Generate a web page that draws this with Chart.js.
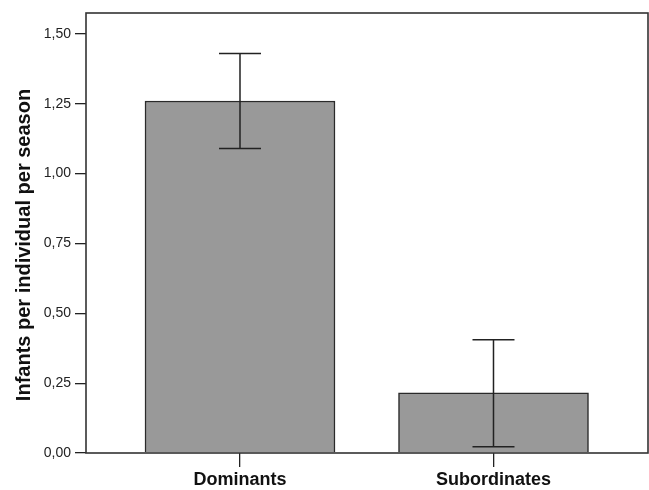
<!DOCTYPE html>
<html>
<head>
<meta charset="utf-8">
<script src="https://cdn.jsdelivr.net/npm/chart.js@4/dist/chart.umd.min.js"></script>
<style>
  html, body { margin: 0; padding: 0; background: #fff; }
  #wrap { width: 649px; height: 490px; position: relative; }
</style>
</head>
<body>
<div id="wrap"><canvas id="c" width="649" height="490"></canvas></div>
<script>
const categories = ["Dominants", "Subordinates"];
const meanValues = [1.26, 0.215];
const errLow = [1.09, 0.022];
const errHigh = [1.43, 0.405];
const yTickValues = [0, 0.25, 0.5, 0.75, 1.0, 1.25, 1.5];
const yTitle = "Infants per individual per season";

const FONT = "'Liberation Sans', Arial, sans-serif";

const frameAndErrors = {
  id: 'frameAndErrors',
  afterDatasetsDraw(chart) {
    const ctx = chart.ctx;
    const xs = chart.scales.x, ys = chart.scales.y;
    ctx.save();
    ctx.strokeStyle = '#222';
    ctx.lineWidth = 1.5;
    categories.forEach((c, i) => {
      const x = xs.getPixelForValue(i + 1);
      const yl = ys.getPixelForValue(errLow[i]);
      const yh = ys.getPixelForValue(errHigh[i]);
      ctx.beginPath();
      ctx.moveTo(x, yl); ctx.lineTo(x, yh);
      ctx.moveTo(x - 21, yl); ctx.lineTo(x + 21, yl);
      ctx.moveTo(x - 21, yh); ctx.lineTo(x + 21, yh);
      ctx.stroke();
    });
    const a = chart.chartArea;
    ctx.strokeStyle = '#333';
    ctx.lineWidth = 1.6;
    ctx.strokeRect(a.left, a.top, a.right - a.left, a.bottom - a.top);
    // y axis title
    ctx.fillStyle = '#111';
    ctx.font = "bold 20px " + FONT;
    ctx.textAlign = 'center';
    ctx.textBaseline = 'middle';
    ctx.translate(24, 245);
    ctx.rotate(-Math.PI / 2);
    ctx.fillText(yTitle, 0, 0);
    ctx.restore();
  }
};

new Chart(document.getElementById('c'), {
  type: 'bar',
  data: {
    datasets: [{
      data: meanValues.map((v, i) => ({ x: i + 1, y: v })),
      backgroundColor: '#999999',
      borderColor: '#2a2a2a',
      borderWidth: 1.5,
      barThickness: 190
    }]
  },
  options: {
    responsive: false,
    animation: false,
    layout: { padding: { top: 13, right: 1, left: 0, bottom: 0 } },
    plugins: { legend: { display: false }, tooltip: { enabled: false } },
    scales: {
      x: {
        type: 'linear',
        min: 0.3925,
        max: 2.6095,
        offset: false,
        afterFit(s) { s.height = 37; },
        afterBuildTicks(s) { s.ticks = categories.map((c, i) => ({ value: i + 1 })); },
        grid: { offset: false, drawOnChartArea: false, drawTicks: true, tickLength: 14, color: '#222', lineWidth: 1.3 },
        border: { display: false },
        ticks: {
          callback: (v) => categories[Math.round(v) - 1] || '',
          font: { family: FONT, size: 18, weight: 'bold' },
          color: '#111',
          padding: 2,
          maxRotation: 0,
          autoSkip: false
        }
      },
      y: {
        min: 0,
        max: 1.575,
        afterFit(s) { s.width = 86; },
        afterBuildTicks(s) { s.ticks = yTickValues.map(v => ({ value: v })); },
        grid: { drawOnChartArea: false, drawTicks: true, tickLength: 11, color: '#222', lineWidth: 1.3 },
        border: { display: false },
        ticks: {
          callback: (v) => v.toFixed(2).replace('.', ','),
          font: { family: FONT, size: 14 },
          color: '#222',
          padding: 4
        }
      }
    }
  },
  plugins: [frameAndErrors]
});
</script>
</body>
</html>
